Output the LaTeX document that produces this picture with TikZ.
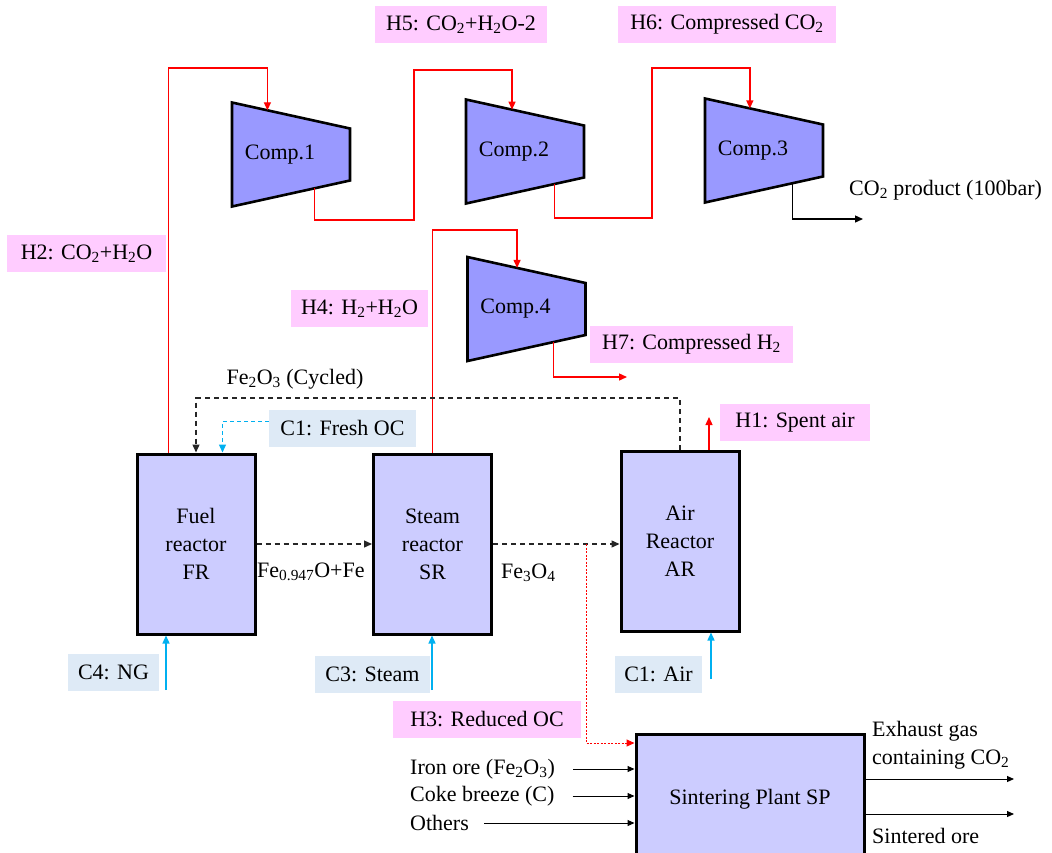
\documentclass[tikz,border=0pt]{standalone}
\usepackage{fontspec}
\setmainfont{Liberation Serif}
\usetikzlibrary{arrows.meta,calc}
\definecolor{tagpink}{HTML}{FFCCFF}
\definecolor{tagblue}{HTML}{DEEAF6}
\definecolor{compfill}{HTML}{9999FF}
\definecolor{reacfill}{HTML}{CCCCFF}
\definecolor{coldline}{HTML}{00B0F0}
\newcommand\chsub[1]{\textsubscript{#1}}

\begin{document}
\begin{tikzpicture}[x=1pt,y=-1pt,
  font=\fontsize{22}{28}\selectfont,
  every node/.style={inner sep=0pt},
  hottag/.style={fill=tagpink, minimum height=37pt},
  coldtag/.style={fill=tagblue, minimum height=37pt},
  reactor/.style={draw, line width=3pt, fill=reacfill, minimum width=118pt, minimum height=180pt, align=center},
  tip/.style={-{Triangle[length=8pt,width=7pt]}},
  hot/.style={red, line width=1.3pt, tip},
  cold/.style={coldline, line width=1.3pt, tip},
  flow/.style={black, line width=1.3pt, tip},
  thinflow/.style={black, line width=1pt, -{Triangle[length=7pt,width=6pt]}},
  solids/.style={black!85, line width=1.3pt, dash pattern=on 5pt off 4pt, tip},
  pics/compressor/.style={code={
    \coordinate (-tl) at (-59,-52);
    \coordinate (-tr) at (59,-26);
    \coordinate (-br) at (59,26);
    \coordinate (-bl) at (-59,52);
    \draw[line width=2.6pt, fill=compfill, line join=miter] (-tl) -- (-tr) -- (-br) -- (-bl) -- cycle;
    \node (-label) at (-11,0) {#1};
  }}
]
\useasboundingbox (0,0) rectangle (1052,852);
\clip (0,0) rectangle (1052,852);

% compressors
\pic (c1) at (291,154.5) {compressor=Comp.1};
\pic (c2) at (525,151.5) {compressor=Comp.2};
\pic (c3) at (764,150.5) {compressor=Comp.3};
\pic (c4) at (526.5,309) {compressor=Comp.4};

% inlet / outlet points on the compressor edges
\coordinate (c1in) at ($(c1-tl)!0.30!(c1-tr)$);
\coordinate (c2in) at ($(c2-tl)!0.39!(c2-tr)$);
\coordinate (c3in) at ($(c3-tl)!0.38!(c3-tr)$);
\coordinate (c4in) at ($(c4-tl)!0.42!(c4-tr)$);
\coordinate (c1out) at ($(c1-bl)!0.70!(c1-br)$);
\coordinate (c2out) at ($(c2-bl)!0.75!(c2-br)$);
\coordinate (c3out) at ($(c3-bl)!0.74!(c3-br)$);
\coordinate (c4out) at ($(c4-bl)!0.73!(c4-br)$);

% reactors and sintering plant
\node[reactor] (fr) at (196,544) {Fuel\\reactor\\FR};
\node[reactor] (sr) at (432.5,544) {Steam\\reactor\\SR};
\node[reactor] (ar) at (680,541) {Air\\Reactor\\AR};
\node[reactor, minimum width=228pt, minimum height=130pt] (sp) at (750,799) {Sintering Plant SP};

% stream tags
\node[hottag, minimum width=172pt] (h5) at (461,24.5) {H5: CO\chsub2+H\chsub2O-2};
\node[hottag, minimum width=218pt] (h6) at (727,24.5) {H6: Compressed CO\chsub2};
\node[hottag, minimum width=159pt] (h2) at (86.5,253.5) {H2: CO\chsub2+H\chsub2O};
\node[hottag, minimum width=137pt] (h4) at (359.5,308.5) {H4: H\chsub2+H\chsub2O};
\node[hottag, minimum width=203pt] (h7) at (691.5,344.5) {H7: Compressed H\chsub2};
\node[hottag, minimum width=150pt] (h1) at (795,422.5) {H1: Spent air};
\node[hottag, minimum width=188pt] (h3) at (487,719.5) {H3: Reduced OC};
\node[coldtag, minimum width=147pt] (c1oc) at (342.5,428.5) {C1: Fresh OC};
\node[coldtag, minimum width=91pt] (c4ng) at (113.5,672.5) {C4: NG};
\node[coldtag, minimum width=115pt] (c3st) at (372.5,674.5) {C3: Steam};
\node[coldtag, minimum width=87pt] (c1air) at (658.5,674.5) {C1: Air};

% plain labels
\node (cyc) at (295,379) {Fe\chsub2O\chsub3 (Cycled)};
\node[anchor=west] (feo) at (257,572) {Fe\chsub{0.947}O+Fe};
\node[anchor=west] (fe3) at (501,573) {Fe\chsub3O\chsub4};
\node[anchor=west] (prod) at (849,190) {CO\chsub2 product (100bar)};
\node[anchor=west] (iron) at (410,769) {Iron ore (Fe\chsub2O\chsub3)};
\node[anchor=west] (coke) at (410,796) {Coke breeze (C)};
\node[anchor=west] (oth) at (410,823) {Others};
\node[anchor=west, align=left] (exhl) at (872,745) {Exhaust gas\\containing CO\chsub2};
\node[anchor=west] (sint) at (872,836) {Sintered ore};

% CO2 compression train
\coordinate (frgas) at ([xshift=33pt]fr.north west);
\draw[hot] (frgas) -- (frgas |- 0,68) -| (c1in);
\draw[hot] (c1out) -- (c1out |- 0,220) -| (414,70) -| (c2in);
\draw[hot] (c2out) -- (c2out |- 0,218) -| (652,68) -| (c3in);
\coordinate (prodend) at (863,219);
\draw[flow] (c3out) |- (prodend);

% hydrogen compression
\draw[hot] (sr.north) -- (sr.north |- 0,230) -| (c4in);
\coordinate (h2end) at (627,377);
\draw[hot] (c4out) |- (h2end);

% spent air
\coordinate (spentair) at (709,417);
\draw[hot] (spentair |- ar.north) -- (spentair);

% oxygen carrier loop
\draw[solids] (ar.north) -- (ar.north |- 0,398) -| (fr.north);
\draw[cold, dash pattern=on 4pt off 3pt] ([yshift=7pt]c1oc.west) -| ([xshift=87pt]fr.north west);
\draw[solids] (fr.east) -- (sr.west);
\draw[solids] (sr.east) -- (sr.east -| ar.west);

% reduced OC to sintering
\coordinate (split) at (586,544);
\draw[red, line width=1pt, dash pattern=on 2pt off 1.5pt, tip] (split) |- (sp.west |- 0,743);

% feeds
\coordinate (ngsrc) at (166,690);
\coordinate (stsrc) at (432,690);
\coordinate (airsrc) at (711,679);
\draw[cold] (ngsrc) -- (ngsrc |- fr.south);
\draw[cold] (stsrc) -- (stsrc |- sr.south);
\draw[cold] (airsrc) -- (airsrc |- ar.south);

% sintering plant inputs and outputs
\draw[thinflow] ([xshift=18pt]iron.east) -- (iron.east -| sp.west);
\draw[thinflow] ([xshift=18pt]coke.east) -- (coke.east -| sp.west);
\draw[thinflow] ([xshift=15pt]oth.east) -- (oth.east -| sp.west);
\coordinate (exhend) at (1014,779);
\coordinate (sintend) at (1014,814);
\draw[thinflow] (exhend -| sp.east) -- (exhend);
\draw[thinflow] (sintend -| sp.east) -- (sintend);
\end{tikzpicture}
\end{document}
